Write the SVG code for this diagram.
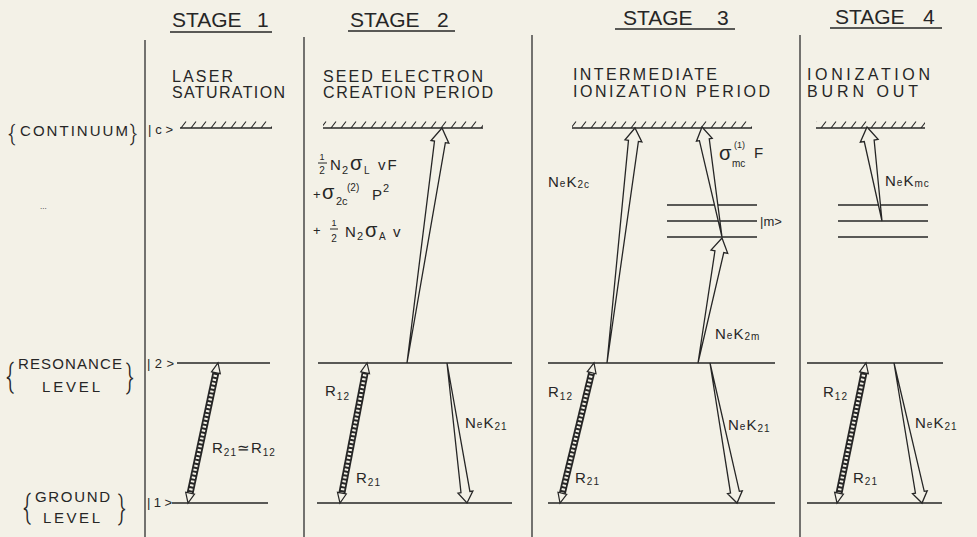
<svg xmlns="http://www.w3.org/2000/svg" width="977" height="537" viewBox="0 0 977 537">
<style>
.bg{fill:#f3f1e7}
.sep{stroke:#2e2e2e;stroke-width:1.3}
.lvl{stroke:#262626;stroke-width:1.5}
.ul{stroke:#262626;stroke-width:1.3}
.t{font-family:"Liberation Sans",Arial,sans-serif;fill:#262626}
.hdr{font-size:21px}
.sub{font-size:16px}
.side{font-size:15px}
.ket{font-size:13px}
.lab{font-size:15px;letter-spacing:1px}
.s{font-size:10px}
.br{font-family:Roboto,"Liberation Sans",sans-serif;font-weight:300;fill:#262626}
.wedge{fill:#f3f1e7;stroke:#262626;stroke-width:1.3;stroke-linejoin:miter}
.head{fill:#f3f1e7;stroke:#262626;stroke-width:1.2;stroke-linejoin:miter}
.band{stroke:#262626;stroke-width:7}
.bandin{stroke:#f3f1e7;stroke-width:3.4;stroke-dasharray:2 2}
.frac{stroke:#262626;stroke-width:1}
</style>
<defs>
<pattern id="hatch" x="0" y="121" width="10" height="7" patternUnits="userSpaceOnUse">
<line x1="1" y1="7" x2="6" y2="0.5" stroke="#262626" stroke-width="1.1"/>
</pattern>
</defs>
<rect class="bg" x="0" y="0" width="977" height="537"/>

<g id="separators">
<line class="sep" x1="145" y1="40" x2="145" y2="537"/>
<line class="sep" x1="304" y1="37" x2="304" y2="537"/>
<line class="sep" x1="532" y1="35" x2="532" y2="537"/>
<line class="sep" x1="800" y1="35" x2="800" y2="537"/>
</g>

<g id="left-labels">
<text class="br" x="8" y="141" font-size="22">{</text>
<text class="t side" x="20" y="136" textLength="108" lengthAdjust="spacing">CONTINUUM</text>
<text class="br" x="130" y="141" font-size="22">}</text>
<text class="t ket" x="148" y="134" textLength="25" lengthAdjust="spacing">|c&gt;</text>
<text class="t" x="40" y="209" font-size="8" fill="#555">...</text>
<text class="br" x="6" y="388" font-size="34" transform="translate(6,388) scale(0.7,1) translate(-6,-388)">{</text>
<text class="t side" x="18" y="369" font-size="14" textLength="104" lengthAdjust="spacing">RESONANCE</text>
<text class="t side" x="42" y="392" font-size="14" textLength="58" lengthAdjust="spacing">LEVEL</text>
<text class="br" x="126" y="388" font-size="34" transform="translate(126,388) scale(0.7,1) translate(-126,-388)">}</text>
<text class="t ket" x="147" y="368" textLength="27" lengthAdjust="spacing">|2&gt;</text>
<text class="br" x="23" y="519" font-size="34" transform="translate(23,519) scale(0.7,1) translate(-23,-519)">{</text>
<text class="t side" x="35" y="502" font-size="14" textLength="75" lengthAdjust="spacing">GROUND</text>
<text class="t side" x="43" y="523" font-size="14" textLength="57" lengthAdjust="spacing">LEVEL</text>
<text class="br" x="118" y="519" font-size="34" transform="translate(118,519) scale(0.7,1) translate(-118,-519)">}</text>
<text class="t ket" x="147" y="507" textLength="25" lengthAdjust="spacing">|1&gt;</text>
</g>

<g id="stage1">
<text class="t hdr" x="172" y="27">STAGE<tspan x="257">1</tspan></text>
<line class="ul" x1="170" y1="32" x2="272" y2="32"/>
<text class="t sub" x="172" y="82" textLength="61" lengthAdjust="spacing">LASER</text>
<text class="t sub" x="172" y="98" textLength="113" lengthAdjust="spacing">SATURATION</text>
<rect x="180" y="121" width="92" height="7" fill="url(#hatch)"/>
<line class="lvl" x1="180" y1="128" x2="272" y2="128"/>
<line class="lvl" x1="177" y1="363" x2="270" y2="363"/>
<line class="lvl" x1="172" y1="503" x2="268" y2="503"/>
<text class="t lab" x="212" y="453">R<tspan class="s" dy="3">21</tspan><tspan dy="-3">≃</tspan>R<tspan class="s" dy="3">12</tspan></text>
</g>

<g id="stage2">
<text class="t hdr" x="350" y="27">STAGE<tspan x="437">2</tspan></text>
<line class="ul" x1="348" y1="31" x2="455" y2="31"/>
<text class="t sub" x="323" y="82" textLength="160" lengthAdjust="spacing">SEED ELECTRON</text>
<text class="t sub" x="323" y="98" textLength="170" lengthAdjust="spacing">CREATION PERIOD</text>
<rect x="323" y="121" width="160" height="7" fill="url(#hatch)"/>
<line class="lvl" x1="323" y1="128" x2="483" y2="128"/>
<line class="lvl" x1="318" y1="363" x2="512" y2="363"/>
<line class="lvl" x1="317" y1="503" x2="512" y2="503"/>
<text class="t" x="322" y="160" font-size="9" text-anchor="middle">1</text>
<line class="frac" x1="318" y1="163" x2="327" y2="163"/>
<text class="t" x="322" y="174" font-size="10" text-anchor="middle">2</text>
<text class="t" x="330" y="170" font-size="15">N</text>
<text class="t" x="342" y="174" font-size="11">2</text>
<text class="t" x="350" y="170" font-size="20">σ</text>
<text class="t" x="364" y="174" font-size="10">L</text>
<text class="t" x="378" y="170" font-size="15" letter-spacing="2">vF</text>
<text class="t" x="313" y="199" font-size="13">+</text>
<text class="t" x="322" y="199" font-size="20">σ</text>
<text class="t" x="336" y="205" font-size="11">2c</text>
<text class="t" x="347" y="191" font-size="10">(2)</text>
<text class="t" x="372" y="200" font-size="15">P</text>
<text class="t" x="383" y="192" font-size="11">2</text>
<text class="t" x="313" y="235" font-size="13">+</text>
<text class="t" x="334" y="226" font-size="9" text-anchor="middle">1</text>
<line class="frac" x1="330" y1="229" x2="338" y2="229"/>
<text class="t" x="334" y="242" font-size="10" text-anchor="middle">2</text>
<text class="t" x="345" y="237" font-size="15">N</text>
<text class="t" x="357" y="240" font-size="11">2</text>
<text class="t" x="365" y="237" font-size="20">σ</text>
<text class="t" x="379" y="240" font-size="10">A</text>
<text class="t" x="393" y="237" font-size="15">v</text>
<text class="t lab" x="325" y="396">R<tspan class="s" dy="4">12</tspan></text>
<text class="t lab" x="356" y="483">R<tspan class="s" dy="3">21</tspan></text>
<text class="t lab" x="465" y="428">N<tspan class="s">e</tspan>K<tspan class="s" dy="2">21</tspan></text>
</g>

<g id="stage3">
<text class="t hdr" x="623" y="25">STAGE<tspan x="717">3</tspan></text>
<line class="ul" x1="615" y1="29" x2="735" y2="29"/>
<text class="t sub" x="573" y="80" textLength="144" lengthAdjust="spacing">INTERMEDIATE</text>
<text class="t sub" x="573" y="97" textLength="197" lengthAdjust="spacing">IONIZATION PERIOD</text>
<rect x="572" y="121" width="180" height="7" fill="url(#hatch)"/>
<line class="lvl" x1="572" y1="128" x2="752" y2="128"/>
<line class="lvl" x1="667" y1="205" x2="757" y2="205"/>
<line class="lvl" x1="667" y1="221" x2="757" y2="221"/>
<line class="lvl" x1="667" y1="237" x2="757" y2="237"/>
<text class="t ket" x="760" y="226">|m&gt;</text>
<line class="lvl" x1="548" y1="363" x2="775" y2="363"/>
<line class="lvl" x1="548" y1="503" x2="775" y2="503"/>
<text class="t lab" x="548" y="187">N<tspan class="s">e</tspan>K<tspan class="s" dy="1">2c</tspan></text>
<text class="t" x="719" y="160" font-size="20">σ</text>
<text class="t" x="732" y="167" font-size="10">mc</text>
<text class="t" x="734" y="148" font-size="9">(1)</text>
<text class="t" x="754" y="158" font-size="15">F</text>
<text class="t lab" x="715" y="339">N<tspan class="s">e</tspan>K<tspan class="s" dy="1">2m</tspan></text>
<text class="t lab" x="548" y="397">R<tspan class="s" dy="3">12</tspan></text>
<text class="t lab" x="575" y="483">R<tspan class="s" dy="2">21</tspan></text>
<text class="t lab" x="728" y="430">N<tspan class="s">e</tspan>K<tspan class="s" dy="2">21</tspan></text>
</g>

<g id="stage4">
<text class="t hdr" x="835" y="24">STAGE<tspan x="923">4</tspan></text>
<line class="ul" x1="830" y1="28" x2="942" y2="28"/>
<text class="t sub" x="807" y="80" textLength="123" lengthAdjust="spacing">IONIZATION</text>
<text class="t sub" x="807" y="97" textLength="111" lengthAdjust="spacing">BURN OUT</text>
<rect x="816" y="121" width="109" height="7" fill="url(#hatch)"/>
<line class="lvl" x1="816" y1="128" x2="925" y2="128"/>
<line class="lvl" x1="838" y1="205" x2="928" y2="205"/>
<line class="lvl" x1="838" y1="221" x2="928" y2="221"/>
<line class="lvl" x1="838" y1="237" x2="928" y2="237"/>
<line class="lvl" x1="807" y1="363" x2="943" y2="363"/>
<line class="lvl" x1="807" y1="503" x2="942" y2="503"/>
<text class="t lab" x="885" y="186">N<tspan class="s">e</tspan>K<tspan class="s" dy="1">mc</tspan></text>
<text class="t lab" x="823" y="397">R<tspan class="s" dy="3">12</tspan></text>
<text class="t lab" x="853" y="483">R<tspan class="s" dy="2">21</tspan></text>
<text class="t lab" x="915" y="428">N<tspan class="s">e</tspan>K<tspan class="s" dy="2">21</tspan></text>
</g>

<g id="connectors">
<polygon class="wedge" transform="translate(407,363) rotate(-81.53)" points="0,0 223.6,-5.5 223.6,-9 237.6,0 223.6,9 223.6,5.5"/>
<polygon class="wedge" transform="translate(447,363) rotate(81.87)" points="0,0 130.4,-4.5 130.4,-7.5 141.4,0 130.4,7.5 130.4,4.5"/>
<polygon class="wedge" transform="translate(607,363) rotate(-83.21)" points="0,0 223.7,-5 223.7,-8.5 236.7,0 223.7,8.5 223.7,5"/>
<polygon class="wedge" transform="translate(698,363) rotate(-79.13)" points="0,0 113.3,-4.5 113.3,-8.5 127.3,0 113.3,8.5 113.3,4.5"/>
<polygon class="wedge" transform="translate(722,237) rotate(-100.30)" points="0,0 98.8,-5 98.8,-8 111.8,0 98.8,8 98.8,5"/>
<polygon class="wedge" transform="translate(710,363) rotate(79.08)" points="0,0 131.6,-4.5 131.6,-7.5 142.6,0 131.6,7.5 131.6,4.5"/>
<polygon class="wedge" transform="translate(882,221) rotate(-99.07)" points="0,0 81.2,-5 81.2,-9 95.2,0 81.2,9 81.2,5"/>
<polygon class="wedge" transform="translate(894,363) rotate(78.69)" points="0,0 131.8,-4.5 131.8,-7.5 142.8,0 131.8,7.5 131.8,4.5"/>

<g transform="translate(188,503) rotate(-77.91)">
<line class="band" x1="9" y1="0" x2="134.2" y2="0"/>
<line class="bandin" x1="9" y1="0" x2="134.2" y2="0"/>
<polygon class="head" points="0,0 10,-4.5 10,4.5"/>
<polygon class="head" points="143.2,0 133.2,-4.5 133.2,4.5"/>
</g>
<g transform="translate(340,503) rotate(-79.08)">
<line class="band" x1="9" y1="0" x2="133.6" y2="0"/>
<line class="bandin" x1="9" y1="0" x2="133.6" y2="0"/>
<polygon class="head" points="0,0 10,-4.5 10,4.5"/>
<polygon class="head" points="142.6,0 132.6,-4.5 132.6,4.5"/>
</g>
<g transform="translate(560,503) rotate(-76.35)">
<line class="band" x1="9" y1="0" x2="135.1" y2="0"/>
<line class="bandin" x1="9" y1="0" x2="135.1" y2="0"/>
<polygon class="head" points="0,0 10,-4.5 10,4.5"/>
<polygon class="head" points="144.1,0 134.1,-4.5 134.1,4.5"/>
</g>
<g transform="translate(837,503) rotate(-78.30)">
<line class="band" x1="9" y1="0" x2="134" y2="0"/>
<line class="bandin" x1="9" y1="0" x2="134" y2="0"/>
<polygon class="head" points="0,0 10,-4.5 10,4.5"/>
<polygon class="head" points="143,0 133,-4.5 133,4.5"/>
</g>
</g>
</svg>
